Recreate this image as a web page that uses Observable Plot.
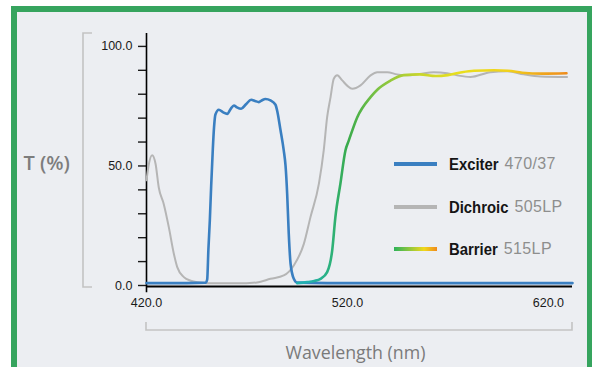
<!DOCTYPE html>
<html>
<head>
<meta charset="utf-8">
<script src="https://cdn.jsdelivr.net/npm/d3@7"></script>
<script src="https://cdn.jsdelivr.net/npm/@observablehq/plot@0.6"></script>
<style>
  html, body { margin: 0; padding: 0; background: #ffffff; }
  #wrap { position: relative; width: 592px; height: 367px; overflow: hidden; background: #fff; }
  #frame { position: absolute; left: 11px; top: 6px; width: 570px; height: 361px;
           border: 6px solid #36a45e; border-bottom: 2px solid #8fd3a8; background: #eceef2; }
  #chart { position: absolute; left: 0; top: 0; }
  #legend { position: absolute; left: 394px; top: 0; font-family: "Liberation Sans", Arial, sans-serif; }
  .row { position: absolute; left: 0; height: 20px; white-space: nowrap; }
  .sw { position: absolute; left: 0; top: 8px; width: 43px; height: 4px; }
  .lab { position: absolute; left: 55px; top: 0; line-height: 20px; }
  .name { display: inline-block; transform: scaleX(0.9); transform-origin: 0 50%;
          font-weight: bold; font-size: 16.5px; color: #151515; }
  .code { position: absolute; top: 0; font-size: 16px; color: #8e8e8e; letter-spacing: 0.4px; }
</style>
</head>
<body>
<div id="wrap">
  <div id="frame"></div>
  <div id="chart"></div>
  <div id="legend"></div>
</div>
<script>
// ---- data (wavelength in nm, transmission in %) ----
const exciterNm = [420, 440, 449.5, 450.2, 450.8, 451.5, 452.2, 453.0, 453.6, 454.3, 456.0, 458.0, 460.2, 462.0, 463.5, 465.0, 467.1, 469.5, 472.1, 474.0, 475.9, 477.5, 479.2, 481.7, 484.2, 485.0, 486.7, 488.3, 489.2, 490.0, 490.8, 491.7, 493.3, 495.0, 510, 560, 632];
const exciterT  = [1.0, 1.0, 1.2, 2.5, 15, 27, 42, 57, 66, 71.5, 73.5, 72.5, 71.8, 74, 75.3, 74.5, 73.9, 75.8, 77.7, 77.2, 76.7, 77.5, 78, 77.4, 75.6, 73.2, 64.9, 56.5, 50, 38.4, 21.6, 9.1, 2.8, 1.2, 1.0, 1.0, 1.0];

const dichroicNm = [420, 421, 422.8, 424.5, 426.1, 428.6, 431.1, 433.6, 435.3, 438.6, 442, 445.2, 455, 465, 475, 481.7, 488.3, 493.3, 498.3, 501.6, 505.8, 508.2, 509.9, 511.6, 513.2, 514.9, 517.4, 520.0, 522.4, 526.5, 531.5, 534.8, 539.8, 544.7, 549.7, 556, 562.9, 569.6, 574.6, 581.2, 591.1, 599.5, 607.7, 616, 629.3];
const dichroicT  = [44, 50, 54.5, 50.9, 41, 34, 24.4, 13.3, 7.7, 3.5, 2.0, 1.4, 0.9, 0.9, 1.3, 2.8, 4.2, 8.4, 17.4, 28.6, 42.6, 56.5, 70.4, 78.8, 86.5, 87.9, 85.8, 83.5, 82.3, 83.7, 87.9, 89.2, 89.2, 88.3, 87.9, 88.5, 89.2, 88.8, 87.9, 87.2, 89.2, 89.6, 88.3, 87.4, 87.2];

const barrierNm = [495, 500, 503.5, 506.6, 509.9, 512.4, 514.0, 516.5, 519.0, 520.7, 524.9, 531.5, 535, 541, 548, 556, 564, 570, 577, 583, 593, 600, 607, 617, 629];
const barrierT  = [1.0, 1.4, 1.9, 2.8, 5.6, 14.6, 28.6, 42.6, 56.5, 60.7, 70.4, 78.8, 82, 85.5, 88, 88.3, 87.6, 88, 89.2, 89.8, 90, 89.8, 89, 88.6, 88.8];

const xTicks = [420, 520, 620];
const yTicks = [0, 10, 20, 30, 40, 50, 60, 70, 80, 90, 100];
const yLabelled = [0, 50, 100];

const series = [
  {name: "Exciter",  code: "470/37", color: "#3a7fc1"},
  {name: "Dichroic", code: "505LP",  color: "#b5b5b5"},
  {name: "Barrier",  code: "515LP",  color: "url(#barrierGrad)"}
];
const barrierStops = [
  [500, "#22b0b0"], [512, "#2db27a"], [520, "#3aab4c"], [535, "#7cc242"],
  [555, "#c6d52e"], [575, "#e8df1e"], [600, "#f1d21c"], [615, "#f0aa1e"], [632, "#ee861c"]
];

const exciter  = exciterNm.map((x, i) => ({x, y: exciterT[i]}));
const dichroic = dichroicNm.map((x, i) => ({x, y: dichroicT[i]}));
const barrier  = barrierNm.map((x, i) => ({x, y: barrierT[i]}));

const font = "'Liberation Sans', Arial, sans-serif";

const plot = Plot.plot({
  width: 592, height: 367,
  marginLeft: 146, marginRight: 20, marginTop: 33, marginBottom: 82,
  x: {domain: [420, 632], label: null},
  y: {domain: [0, 105.4], label: null},
  style: {background: "transparent", fontFamily: font, fontSize: "12.5px", color: "#1a1a1a", overflow: "visible"},
  marks: [
    Plot.axisY(yTicks, {tickSize: 8, tickPadding: 6, strokeWidth: 1.4,
      tickFormat: d => yLabelled.includes(d) ? d.toFixed(1) : "", fontSize: 12.5}),
    Plot.axisX(xTicks, {tickSize: 0, tickPadding: 13, tickFormat: d => d.toFixed(1), fontSize: 12.5}),
    Plot.ruleY([0], {x1: 420, x2: 632, stroke: "#000", strokeWidth: 2, dy: 1}),
    Plot.ruleX([420], {y1: -3, y2: 105.4, stroke: "#000", strokeWidth: 1.6}),
    Plot.line(dichroic, {x: "x", y: "y", stroke: series[1].color, strokeWidth: 2, curve: "monotone-x"}),
    Plot.line(exciter, {x: "x", y: "y", stroke: series[0].color, strokeWidth: 2.6, curve: "monotone-x"}),
    Plot.line(barrier, {x: "x", y: "y", stroke: series[2].color, strokeWidth: 2.6, curve: "monotone-x"}),
    Plot.text(["T (%)"], {frameAnchor: "left", dx: -123, dy: 4, textAnchor: "start", lineAnchor: "middle",
      fontSize: 20, fontWeight: 600, fill: "#7d7d7d", fontFamily: "'Open Sans', sans-serif"}),
    Plot.text(["Wavelength (nm)"], {frameAnchor: "bottom", dx: -4, dy: 68, lineAnchor: "middle",
      fontSize: 17.8, fill: "#7a7a7a", fontFamily: "'Open Sans', sans-serif"})
  ]
});

// gradient for barrier line, positioned with the x scale
const xs = plot.scale("x"), ys = plot.scale("y");
const svg = d3.select(plot);
const defs = svg.insert("defs", ":first-child");
const grad = defs.append("linearGradient").attr("id", "barrierGrad")
  .attr("gradientUnits", "userSpaceOnUse")
  .attr("x1", xs.apply(420)).attr("x2", xs.apply(632)).attr("y1", 0).attr("y2", 0);
barrierStops.forEach(([nm, c]) => grad.append("stop")
  .attr("offset", (nm - 420) / (632 - 420)).attr("stop-color", c));

// decorative brackets around axes
const bx = xs.apply(420), bx2 = xs.apply(632), y0 = ys.apply(0), yTop = ys.apply(105.4);
const br = svg.append("g").attr("fill", "none").attr("stroke", "#c3c3c3").attr("stroke-width", 1.6);
br.append("path").attr("d", `M${bx - 54},${yTop} H${bx - 63} V${y0 + 2} H${bx - 54}`);
br.append("path").attr("d", `M${bx},${y0 + 37} V${y0 + 45} H${bx2} V${y0 + 37}`);

document.getElementById("chart").appendChild(plot);

// legend
const legendTops = [154, 197, 239];
const codeLeft = [54, 71, 63];
const legend = document.getElementById("legend");
series.forEach((s, i) => {
  const row = document.createElement("div");
  row.className = "row";
  row.style.top = legendTops[i] + "px";
  const sw = document.createElement("div");
  sw.className = "sw";
  sw.style.background = i === 2
    ? "linear-gradient(to right, #2db25a, #8cc63e 35%, #f0d81c 70%, #f08a1c)"
    : s.color;
  const lab = document.createElement("div");
  lab.className = "lab";
  const nm = document.createElement("span");
  nm.className = "name"; nm.textContent = s.name;
  const cd = document.createElement("span");
  cd.className = "code"; cd.textContent = s.code;
  lab.appendChild(nm); lab.appendChild(cd);
  row.appendChild(sw); row.appendChild(lab);
  legend.appendChild(row);
  // place the code right after the condensed name
  const w = nm.getBoundingClientRect().width;
  cd.style.left = (w + 6) + "px";
});
</script>
</body>
</html>
